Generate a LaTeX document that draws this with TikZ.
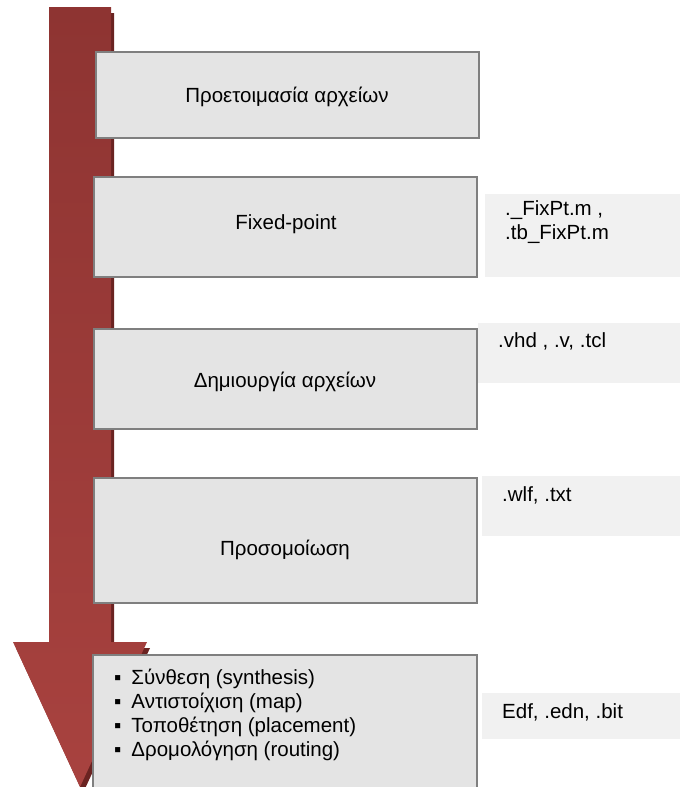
\documentclass[tikz,border=0pt]{standalone}
\usepackage{fontspec}
\setmainfont{Liberation Sans}
\definecolor{boxfill}{HTML}{E4E4E4}
\definecolor{boxline}{HTML}{7F7F7F}
\definecolor{sidefill}{HTML}{F1F1F1}
\definecolor{arrtop}{HTML}{8E3432}
\definecolor{arrmid}{HTML}{C4514E}
\definecolor{arrbot}{HTML}{A8423F}
\definecolor{arrshadow}{HTML}{6A2321}
\begin{document}
\begin{tikzpicture}[x=1pt,y=-1pt,
  every node/.style={font=\fontsize{20.5}{24}\selectfont, text=black},
  stepbox/.style={draw=boxline, fill=boxfill, line width=2pt},
  sidebox/.style={fill=sidefill, draw=none},
  label/.style={inner sep=0pt, anchor=center},
  sidetext/.style={inner sep=0pt, anchor=north west, align=left}]
\useasboundingbox (0,0) rectangle (680,787);
% arrow shadow
\fill[arrshadow] (52,13) -- (114,13) -- (114,648) -- (150,648) -- (83,793) -- (16,648) -- (52,648) -- cycle;
% arrow
\shade[top color=arrtop, middle color=arrmid, bottom color=arrbot]
  (49,7) -- (111,7) -- (111,642) -- (147,642) -- (80,787) -- (13,642) -- (49,642) -- cycle;
% step boxes
\draw[stepbox] (96,52) rectangle (479,138);
\draw[stepbox] (94,177) rectangle (477,277);
\draw[stepbox] (94,329) rectangle (477,429);
\draw[stepbox] (94,478) rectangle (477,603);
\draw[stepbox] (93,655) rectangle (477,800);
\node[label] (s1) at (287,97) {Προετοιμασία αρχείων};
\node[label] (s2) at (286,224) {Fixed-point};
\node[label] (s3) at (285,382) {Δημιουργία αρχείων};
\node[label] (s4) at (285,550) {Προσομοίωση};
\node[sidetext] (s5) at (114,669) {%
  ▪\hspace{10pt}Σύνθεση (synthesis)\\
  ▪\hspace{10pt}Αντιστοίχιση (map)\\
  ▪\hspace{10pt}Τοποθέτηση (placement)\\
  ▪\hspace{10pt}Δρομολόγηση (routing)};
% side boxes
\fill[sidebox] (485,194) rectangle (680,277);
\fill[sidebox] (478,323) rectangle (680,383);
\fill[sidebox] (482,476) rectangle (680,536);
\fill[sidebox] (482,693) rectangle (680,739);
\node[sidetext] (f1) at (505,200) {.\_FixPt.m ,\\.tb\_FixPt.m};
\node[sidetext] (f2) at (498,332) {.vhd , .v, .tcl};
\node[sidetext] (f3) at (502,486) {.wlf, .txt};
\node[sidetext] (f4) at (502,703) {Edf, .edn, .bit};
\end{tikzpicture}
\end{document}
